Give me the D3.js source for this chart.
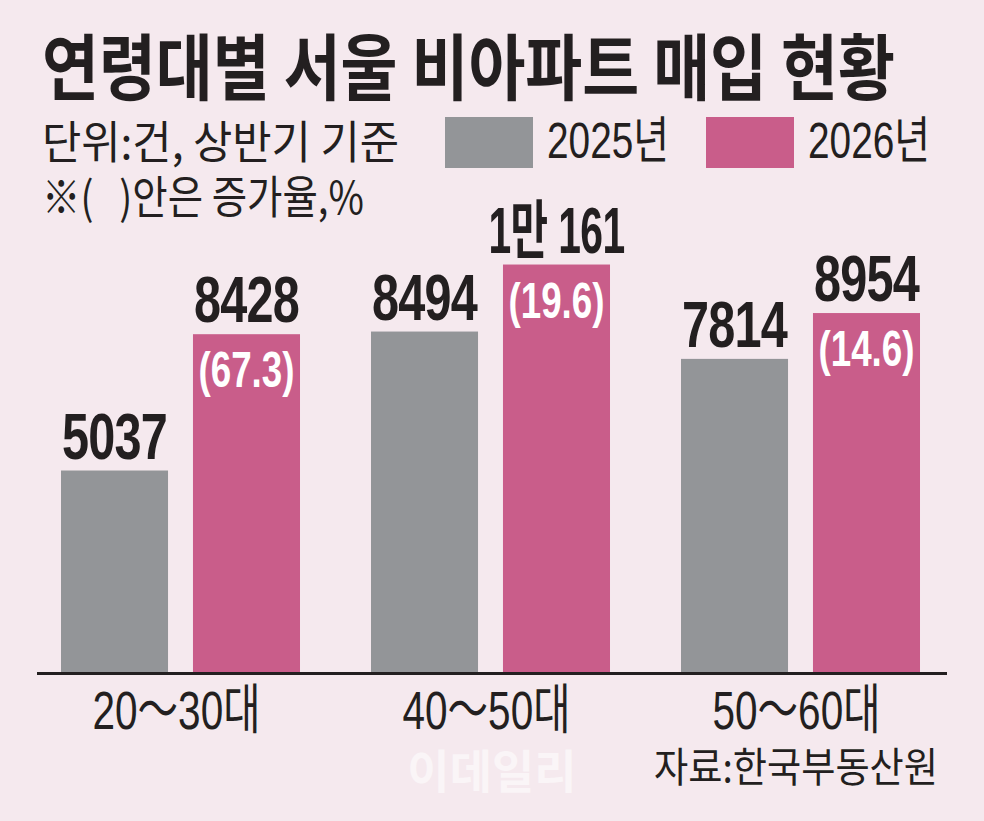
<!DOCTYPE html>
<html>
<head>
<meta charset="utf-8">
<script src="https://cdn.jsdelivr.net/npm/d3@7"></script>
<style>
    html, body { margin: 0; padding: 0; background: #f5e9ee; }
    #chart { width: 984px; height: 821px; }
    text { white-space: pre; }
</style>
</head>
<body>
<div id="chart"></div>
<script>
// chart data
const categories = ['20～30대', '40～50대', '50～60대'];
const seriesNames = ['2025년', '2026년'];
const values2025 = [5037, 8494, 7814];
const values2026 = [8428, 10161, 8954];
const growth2026 = [67.3, 19.6, 14.6];

const titleText = '연령대별 서울 비아파트 매입 현황';
const noteLines = ['단위:건, 상반기 기준', '※(   )안은 증가율,%'];
const noteWidths = [357, 322];
const sourceText = '자료:한국부동산원';

const colors = { '2025년': '#939598', '2026년': '#c95d8a' };
const ink = '#231f20';
const numFont = "'Liberation Sans', 'Noto Sans CJK KR', sans-serif";
const krFont = "'Noto Sans CJK KR', 'Noto Sans', sans-serif";

// 1만 161 style for values over ten thousand
function formatCount(v) {
    if (v >= 10000) return `${Math.floor(v / 10000)}만 ${v % 10000}`;
    return String(v);
}

// squeeze a text horizontally, like the condensed type in the original
function condense(textSel, sx) {
    textSel.attr('transform', `scale(${sx},1)`);
}

function fitWidth(textSel, width) {
    let w = textSel.node().getComputedTextLength();
    condense(textSel, width / w);
    return width / w;
}

class BarVis {
    constructor(parentElement) {
        this.parentElement = parentElement;
        this.initVis();
    }

    initVis() {
        let vis = this;

        vis.width = 984;
        vis.height = 821;

        vis.svg = d3
            .select('#' + vis.parentElement)
            .append('svg')
            .attr('width', vis.width)
            .attr('height', vis.height);

        vis.svg.append('rect').attr('width', vis.width).attr('height', vis.height).attr('fill', '#f5e9ee');

        // title + notes
        let t = vis.svg.append('g').attr('transform', 'translate(42,94)')
            .append('text')
            .attr('font-family', krFont)
            .attr('font-weight', 700)
            .attr('font-size', 72)
            .attr('fill', ink)
            .text(titleText);
        fitWidth(t, 853);

        noteLines.forEach((line, i) => {
            let n = vis.svg.append('g').attr('transform', `translate(42,${159 + i * 55})`)
                .append('text')
                .attr('font-family', krFont)
                .attr('font-size', 45)
                .attr('fill', ink)
                .text(line);
            fitWidth(n, noteWidths[i]);
        });

        // legend
        vis.legend = vis.svg.append('g').attr('class', 'legend');
        seriesNames.forEach((s, i) => {
            let lg = vis.legend.append('g').attr('transform', `translate(${445 + i * 261},117)`);
            lg.append('rect').attr('width', 88).attr('height', 51).attr('fill', colors[s]);
            let lt = lg.append('g').attr('transform', 'translate(102,41)')
                .append('text')
                .attr('font-family', numFont)
                .attr('font-size', 50)
                .attr('fill', ink)
                .text(s);
            fitWidth(lt, 122);
        });

        // scales
        vis.x0 = d3.scaleBand().domain(categories).range([25.5, 955.5]).paddingInner(0.229).paddingOuter(0.1145);
        vis.x1 = d3.scaleBand().domain(seriesNames).range([0, vis.x0.bandwidth()]).paddingInner(0.189);
        vis.y = d3.scaleLinear().domain([0, 10000]).range([673, 271]);

        vis.wrangleData();
    }

    wrangleData() {
        let vis = this;

        vis.displayData = categories.map((c, i) => ({
            category: c,
            bars: [
                { series: seriesNames[0], value: values2025[i], growth: null },
                { series: seriesNames[1], value: values2026[i], growth: growth2026[i] },
            ],
        }));

        vis.updateVis();
    }

    updateVis() {
        let vis = this;

        let groups = vis.svg
            .selectAll('.group')
            .data(vis.displayData)
            .enter()
            .append('g')
            .attr('class', 'group')
            .attr('transform', (d) => `translate(${vis.x0(d.category)},0)`);

        let bar = groups
            .selectAll('.bar')
            .data((d) => d.bars)
            .enter()
            .append('g')
            .attr('class', 'bar');

        bar.append('rect')
            .attr('x', (d) => vis.x1(d.series))
            .attr('y', (d) => vis.y(d.value))
            .attr('width', vis.x1.bandwidth())
            .attr('height', (d) => vis.y(0) - vis.y(d.value))
            .attr('fill', (d) => colors[d.series]);

        // value above each bar
        bar.append('g')
            .attr('transform', (d) => `translate(${vis.x1(d.series) + vis.x1.bandwidth() / 2},${vis.y(d.value) - 12})`)
            .append('text')
            .attr('text-anchor', 'middle')
            .attr('font-family', numFont)
            .attr('font-weight', 700)
            .attr('font-size', 64)
            .attr('letter-spacing', -1)
            .attr('fill', ink)
            .text((d) => formatCount(d.value))
            .each(function () {
                let sel = d3.select(this);
                let w = this.getComputedTextLength();
                // narrow bold digits; the 만 label gets squeezed to the bar
                if (w * 0.76 > 136) fitWidth(sel, 136);
                else condense(sel, 0.76);
            });

        // growth rate inside the 2026 bars
        bar.filter((d) => d.growth !== null)
            .append('g')
            .attr('transform', (d) => `translate(${vis.x1(d.series) + vis.x1.bandwidth() / 2},${vis.y(d.value) + 53})`)
            .append('text')
            .attr('text-anchor', 'middle')
            .attr('font-family', numFont)
            .attr('font-weight', 700)
            .attr('font-size', 50)
            .attr('fill', '#ffffff')
            .text((d) => `(${d.growth.toFixed(1)})`)
            .each(function () { fitWidth(d3.select(this), 96); });

        // baseline
        vis.svg.append('line')
            .attr('x1', 37).attr('x2', 947)
            .attr('y1', vis.y(0) + 0.5).attr('y2', vis.y(0) + 0.5)
            .attr('stroke', ink)
            .attr('stroke-width', 3);

        // category labels
        groups.append('g')
            .attr('transform', `translate(${vis.x0.bandwidth() / 2 - 4},729)`)
            .append('text')
            .attr('text-anchor', 'middle')
            .attr('font-family', numFont)
            .attr('font-size', 54)
            .attr('fill', ink)
            .text((d) => d.category)
            .each(function () { fitWidth(d3.select(this), 168); });

        // watermark
        vis.svg.append('text')
            .attr('x', 492).attr('y', 788)
            .attr('text-anchor', 'middle')
            .attr('font-family', krFont)
            .attr('font-weight', 700)
            .attr('font-size', 46)
            .attr('fill', '#ffffff')
            .attr('opacity', 0.55)
            .text('이데일리');

        // source
        let src = vis.svg.append('g').attr('transform', 'translate(938,782)')
            .append('text')
            .attr('text-anchor', 'end')
            .attr('font-family', krFont)
            .attr('font-size', 41)
            .attr('fill', ink)
            .text(sourceText);
        fitWidth(src, 284);
    }
}

new BarVis('chart');
</script>
</body>
</html>
